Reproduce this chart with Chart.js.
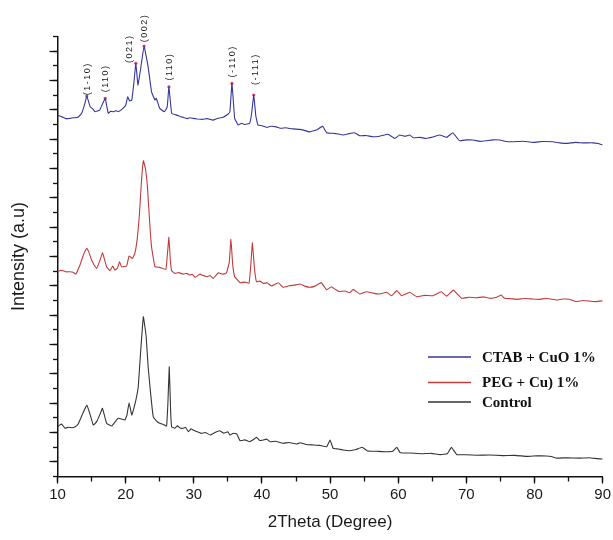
<!DOCTYPE html>
<html>
<head>
<meta charset="utf-8">
<script src="https://cdn.jsdelivr.net/npm/chart.js@4/dist/chart.umd.min.js"></script>
<style>
html,body{margin:0;padding:0;background:#fff;}
canvas{display:block;}
</style>
</head>
<body>
<canvas id="c" width="613" height="540"></canvas>
<script>
// ---------- DATA ----------
const seriesNames = ['CTAB + CuO 1%', 'PEG + Cu) 1%', 'Control'];

const ctabX = [10.0,10.5,10.8,11.2,11.8,12.4,13.0,13.55,14.0,14.3,14.8,15.2,15.5,16.2,16.6,17.0,17.45,17.8,18.2,18.6,18.9,19.3,19.6,20.0,20.3,20.6,20.9,21.2,21.5,21.8,22.2,22.7,23.3,23.8,24.3,24.5,25.0,25.7,26.1,26.35,26.75,27.5,28.0,28.4,29.0,29.4,29.9,30.5,31.3,32.0,32.8,33.5,34.3,35.0,35.3,35.6,36.0,36.5,37.0,37.5,38.2,38.5,38.8,39.1,39.4,40.0,40.7,41.3,42.1,42.8,43.5,44.5,45.56,46.2,47.0,48.0,48.9,49.5,50.4,51.2,51.9,52.8,53.6,54.35,55.3,56.3,57.4,58.5,59.5,60.2,61.0,61.7,62.2,63.2,64.1,65.1,66.1,67.1,68.0,69.0,70.0,71.0,72.0,72.9,73.9,74.9,75.8,76.8,78.3,79.8,81.2,82.7,83.7,84.7,86.0,87.1,88.6,89.3,90.0];
const ctabY = [24.64,24.55,24.49,24.40,24.42,24.46,24.49,24.76,25.4,25.94,25.21,25.05,24.87,24.98,25.4,25.78,24.76,24.9,24.87,24.95,24.87,24.98,25.10,25.3,25.89,25.6,25.67,26.8,28.17,26.69,27.8,29.35,27.93,26.23,25.67,25.78,25.10,24.87,25.2,26.57,24.76,24.64,24.55,24.49,24.40,24.46,24.42,24.38,24.35,24.40,24.30,24.42,24.49,24.7,24.87,26.80,24.42,23.96,24.08,24.0,24.08,24.8,26.01,24.6,23.96,23.92,23.80,23.88,23.84,23.74,23.78,23.70,23.67,23.60,23.50,23.62,23.89,23.44,23.40,23.35,23.28,23.38,23.44,23.23,23.25,23.16,23.22,23.33,23.05,23.28,23.20,23.28,23.10,23.12,23.05,23.15,23.28,23.12,23.44,22.89,22.95,22.94,22.85,22.89,22.95,22.94,22.84,22.82,22.86,22.78,22.84,22.82,22.75,22.71,22.78,22.75,22.75,22.70,22.60];

const pegX = [10.0,10.4,10.85,11.3,11.8,12.3,12.7,13.3,13.8,14.3,14.6,15.0,15.4,15.75,16.2,16.6,16.9,17.2,17.7,18.1,18.4,18.8,19.1,19.4,20.15,20.5,21.0,21.35,21.7,22.0,22.3,22.6,22.9,23.2,23.5,23.8,24.3,25.0,25.9,26.1,26.35,26.55,26.75,27.2,27.8,28.4,29.0,29.4,29.8,30.2,30.9,31.4,31.9,32.4,32.85,33.6,34.0,34.3,34.8,35.2,35.45,35.7,36.0,36.4,36.8,37.5,38.1,38.35,38.6,38.9,39.2,39.7,40.2,40.8,41.4,42.4,43.1,44.0,44.8,45.6,46.3,47.0,47.8,48.7,49.5,50.2,50.8,51.4,52.2,52.9,53.4,54.35,55.3,56.3,57.3,58.3,59.0,59.8,60.5,61.7,62.7,63.9,65.1,66.3,67.1,68.1,69.3,70.4,71.5,72.5,73.4,74.3,75.1,75.6,76.5,77.3,78.6,79.8,80.8,81.7,82.4,83.2,84.2,85.1,86.1,87.1,88.1,89.0,90.0];
const pegY = [13.96,14.05,14.03,13.95,13.96,13.92,13.80,14.42,15.1,15.56,15.3,14.76,14.4,14.19,14.7,15.26,14.8,14.30,14.03,14.35,14.08,14.2,14.64,14.30,14.35,15.03,14.87,15.21,16.2,17.71,20.0,21.53,21.0,19.75,17.5,15.66,14.30,14.26,14.12,15.0,16.31,14.8,14.03,13.85,13.9,13.80,13.85,13.74,13.78,13.58,13.80,13.7,13.62,13.7,13.51,13.89,13.82,13.80,13.89,14.6,16.17,14.5,13.62,13.4,13.21,13.25,13.17,14.3,15.94,14.2,13.28,13.32,13.17,13.2,12.99,13.21,12.90,13.0,13.05,13.12,12.98,12.90,12.98,13.22,12.73,12.94,12.75,12.60,12.65,12.53,12.76,12.44,12.60,12.50,12.44,12.56,12.32,12.67,12.32,12.56,12.26,12.35,12.32,12.60,12.30,12.71,12.15,12.22,12.19,12.25,12.15,12.2,12.37,12.15,12.12,12.08,12.14,12.10,12.08,12.15,12.1,12.03,12.1,12.08,11.92,12.0,11.96,11.92,11.98];

const ctrlX = [10.0,10.3,10.6,11.1,11.6,12.1,12.6,13.0,13.3,13.8,14.3,14.8,15.25,15.75,16.2,16.6,17.2,17.95,18.4,18.9,19.4,19.9,20.2,20.5,20.9,21.2,21.5,21.85,22.2,22.6,23.0,23.3,23.7,24.05,24.5,25.0,25.5,26.0,26.2,26.4,26.6,26.75,27.2,27.6,28.0,28.4,28.8,29.2,29.6,29.9,30.5,31.1,31.7,32.4,33.1,33.8,34.4,35.0,35.3,35.8,36.3,36.8,37.5,38.2,38.7,39.2,39.7,40.2,40.7,41.2,42.0,43.1,44.0,45.1,45.6,46.5,47.5,48.5,49.5,50.0,50.45,51.2,51.9,52.9,53.8,54.7,55.5,56.8,58.2,59.2,59.8,60.3,61.8,63.5,64.8,66.2,67.2,67.8,68.6,70.0,71.55,73.4,75.3,77.1,79.0,80.3,81.7,82.5,83.3,84.8,86.5,88.0,89.2,90.0];
const ctrlY = [3.39,3.50,3.58,3.29,3.36,3.32,3.39,3.55,3.85,4.4,4.87,4.2,3.51,3.74,4.2,4.65,3.63,3.44,3.7,3.97,3.92,3.85,4.2,5.03,4.19,4.65,5.2,6.12,8.5,10.89,9.6,7.48,5.5,4.08,3.8,3.63,3.55,3.44,5.0,7.48,4.5,3.39,3.29,3.45,3.3,3.29,3.35,3.05,3.25,3.17,3.05,2.94,3.0,2.83,3.0,3.12,2.95,3.05,2.83,2.95,2.90,2.44,2.50,2.37,2.5,2.67,2.45,2.49,2.55,2.37,2.40,2.26,2.32,2.22,2.30,2.18,2.15,2.12,2.03,2.49,1.92,1.88,1.81,1.76,1.84,1.99,1.74,1.72,1.69,1.72,1.99,1.62,1.60,1.55,1.58,1.49,1.55,1.99,1.49,1.48,1.45,1.47,1.42,1.44,1.37,1.41,1.40,1.36,1.25,1.28,1.25,1.28,1.22,1.19];

// Peak annotations (Miller indices) on the CTAB pattern
const peakLabels = ['(1-10)', '(110)', '(021)', '(002)', '(110)', '(-110)', '(-111)'];
const peakLabelX = [14.4, 17.1, 20.6, 22.8, 26.5, 35.7, 39.0];
const peakLabelY = [26.0, 26.2, 28.2, 29.6, 27.0, 27.2, 26.7];
const peakMarkX = [14.3, 17.0, 21.5, 22.7, 26.35, 35.6, 38.8];
const peakMarkY = [25.94, 25.78, 28.17, 29.35, 26.57, 26.80, 26.01];

// Axis ticks
const xMajorTicks = [10, 20, 30, 40, 50, 60, 70, 80, 90];
const xMinorTicks = [10, 15, 20, 25, 30, 35, 40, 45, 50, 55, 60, 65, 70, 75, 80, 85, 90];
const yMajorTicks = [1, 3, 5, 7, 9, 11, 13, 15, 17, 19, 21, 23, 25, 27, 29];
const yMinorTicks = [0, 1, 2, 3, 4, 5, 6, 7, 8, 9, 10, 11, 12, 13, 14, 15, 16, 17, 18, 19, 20, 21, 22, 23, 24, 25, 26, 27, 28, 29, 30];

// ---------- CHART ----------
const colors = ['#36379b', '#c23b3b', '#353535'];
const zip = (xs, ys) => xs.map((x, i) => ({x: x, y: ys[i]}));

Chart.defaults.font.family = '"Liberation Sans", Arial, sans-serif';
Chart.defaults.color = '#1a1a1a';

const setTicks = arr => (scale) => { scale.ticks = arr.map(v => ({value: v})); };

const overlayPlugin = {
  id: 'overlay',
  afterDatasetsDraw(chart) {
    const ctx = chart.ctx;
    const xs = chart.scales.x, ys = chart.scales.y;
    // peak labels
    ctx.save();
    ctx.fillStyle = '#1a1a1a';
    ctx.font = '9px "Liberation Sans", Arial, sans-serif';
    try { ctx.letterSpacing = '1.5px'; } catch (e) {}
    ctx.textAlign = 'left';
    ctx.textBaseline = 'middle';
    peakLabels.forEach((t, i) => {
      const px = xs.getPixelForValue(peakLabelX[i]);
      const py = ys.getPixelForValue(peakLabelY[i]);
      ctx.save();
      ctx.translate(px, py);
      ctx.rotate(-Math.PI / 2);
      ctx.fillText(t, 0, 0);
      ctx.restore();
    });
    ctx.restore();
    // legend
    ctx.save();
    const rows = [357, 382.5, 402];
    ctx.font = 'bold 15px "Liberation Serif", "Times New Roman", serif';
    ctx.textAlign = 'left';
    ctx.textBaseline = 'middle';
    for (let i = 0; i < 3; i++) {
      const ds = chart.data.datasets[i];
      ctx.strokeStyle = ds.borderColor;
      ctx.lineWidth = 1.3;
      ctx.beginPath();
      ctx.moveTo(428, rows[i]);
      ctx.lineTo(471, rows[i]);
      ctx.stroke();
      ctx.fillStyle = '#111';
      ctx.fillText(ds.label, 482, rows[i] + 1);
    }
    ctx.restore();
  }
};

new Chart(document.getElementById('c'), {
  type: 'line',
  data: {
    datasets: [
      {label: seriesNames[0], data: zip(ctabX, ctabY), borderColor: colors[0], borderWidth: 1.1, pointRadius: 0, tension: 0.08, fill: false},
      {label: seriesNames[1], data: zip(pegX, pegY), borderColor: colors[1], borderWidth: 1.1, pointRadius: 0, tension: 0.08, fill: false},
      {label: seriesNames[2], data: zip(ctrlX, ctrlY), borderColor: colors[2], borderWidth: 1.1, pointRadius: 0, tension: 0.08, fill: false},
      {label: 'peaks', data: zip(peakMarkX, peakMarkY), showLine: false, pointRadius: 1.6, pointBackgroundColor: '#e2406a', pointBorderWidth: 0, borderColor: '#e2406a'}
    ]
  },
  options: {
    responsive: false,
    animation: false,
    layout: {padding: {left: 0, right: 10, top: 36.5, bottom: 0}},
    plugins: {legend: {display: false}, tooltip: {enabled: false}},
    scales: {
      x: {
        type: 'linear', position: 'bottom', min: 10, max: 90, weight: 1,
        afterBuildTicks: setTicks(xMajorTicks),
        afterFit: (s) => { s.height = 63.5; },
        grid: {drawOnChartArea: false, drawTicks: true, tickLength: 7, tickColor: '#111', tickWidth: 1.3},
        border: {display: true, color: '#111', width: 1.5},
        ticks: {autoSkip: false, maxRotation: 0, padding: 2, font: {size: 15}, color: '#1a1a1a'},
        title: {display: true, text: '2Theta (Degree)', font: {size: 17}, color: '#1a1a1a', padding: {top: 0, bottom: 7}}
      },
      x2: {
        type: 'linear', position: 'bottom', min: 10, max: 90, weight: 0,
        afterBuildTicks: setTicks(xMinorTicks),
        afterFit: (s) => { s.height = 0; },
        grid: {drawOnChartArea: false, drawTicks: true, tickLength: 5, tickColor: '#111', tickWidth: 1.3},
        border: {display: false},
        ticks: {display: false}
      },
      y: {
        type: 'linear', position: 'left', min: 0, max: 30, weight: 1,
        afterBuildTicks: setTicks(yMajorTicks),
        afterFit: (s) => { s.width = 57.5; },
        grid: {drawOnChartArea: false, drawTicks: true, tickLength: 8, tickColor: '#111', tickWidth: 1.3},
        border: {display: true, color: '#111', width: 1.5},
        ticks: {display: false},
        title: {display: true, text: 'Intensity (a.u)', font: {size: 18}, color: '#1a1a1a', padding: {top: 8, bottom: 0}}
      },
      y2: {
        type: 'linear', position: 'left', min: 0, max: 30, weight: 0,
        afterBuildTicks: setTicks(yMinorTicks),
        afterFit: (s) => { s.width = 0; },
        grid: {drawOnChartArea: false, drawTicks: true, tickLength: 4.5, tickColor: '#111', tickWidth: 1.3},
        border: {display: false},
        ticks: {display: false}
      }
    }
  },
  plugins: [overlayPlugin]
});
</script>
</body>
</html>
